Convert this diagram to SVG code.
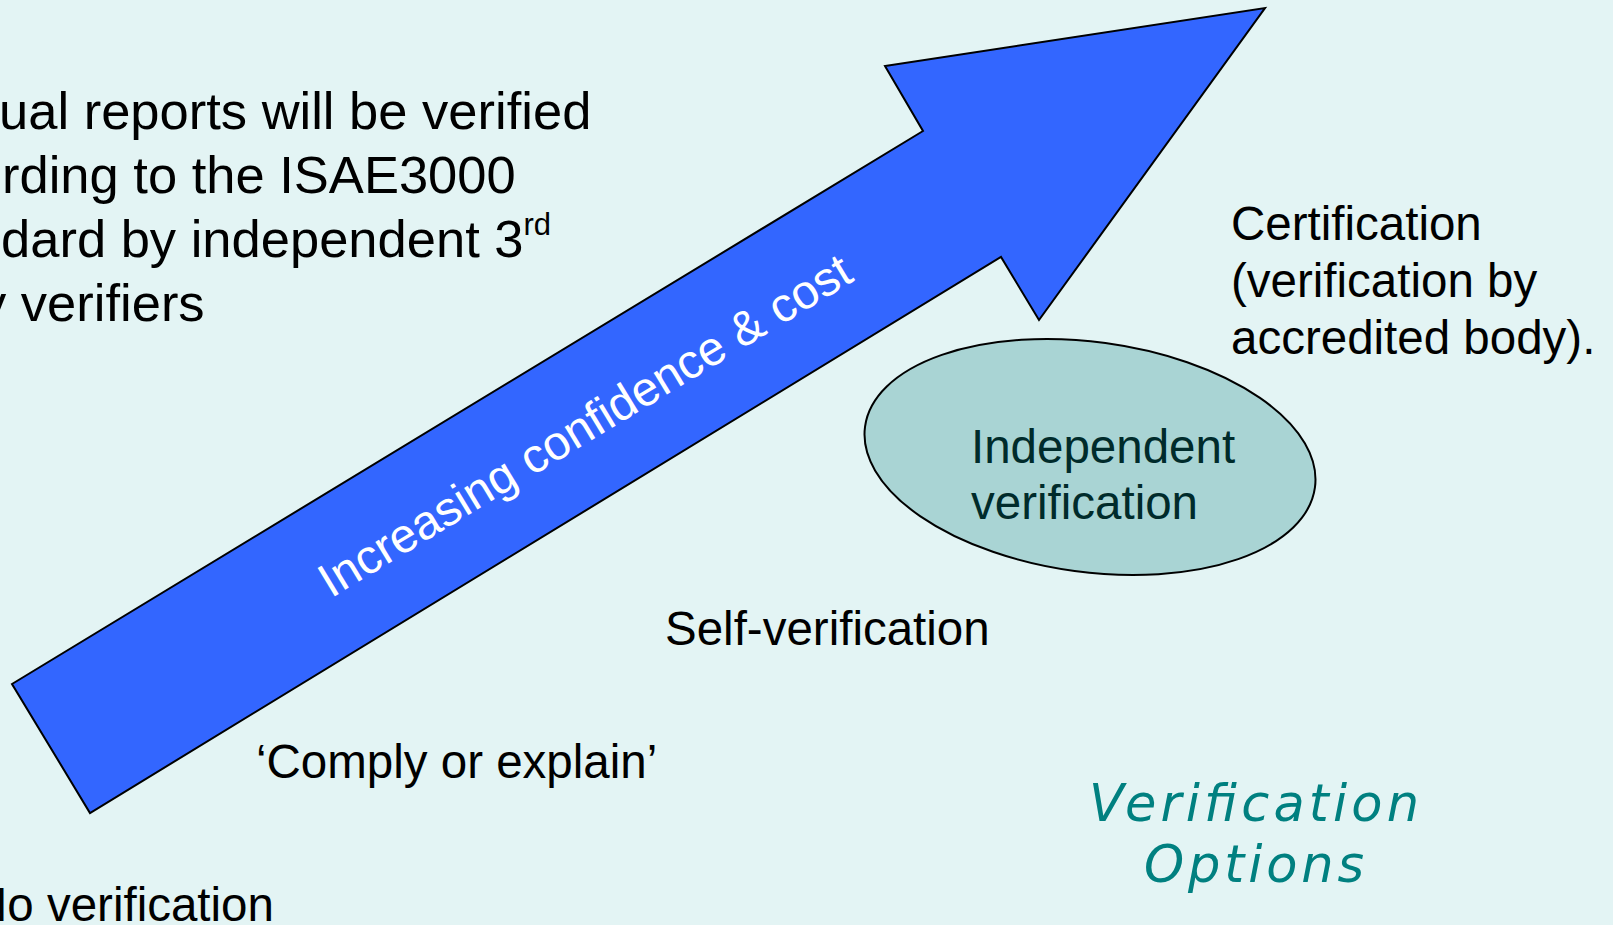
<svg xmlns="http://www.w3.org/2000/svg" width="1613" height="925" viewBox="0 0 1613 925">
<style>
.t{font-family:"Liberation Sans",Arial,sans-serif;fill:#000}
.big{font-size:52.5px}
.mid{font-size:47.5px}
.opt{font-family:"DejaVu Sans",Verdana,sans-serif;font-style:italic;font-size:51px;fill:#008080;text-anchor:middle}
</style>
<rect id="background" x="0" y="0" width="1613" height="925" fill="#E3F4F4"/>
<g id="intro-text">
<text class="t big" x="-1" y="129">ual reports will be verified</text>
<text class="t big" x="2" y="193">rding to the ISAE3000</text>
<text class="t big" x="1" y="257">dard by independent 3<tspan font-size="31" dy="-22">rd</tspan></text>
<text class="t big" x="-20" y="321">y verifiers</text>
</g>
<g id="arrow">
<polygon points="12,684 923,131 885,66 1265,8 1039,320 1001,257 90,813" fill="#3366FF" stroke="#000" stroke-width="2" stroke-linejoin="miter"/>
<text transform="translate(584.4,424.7) rotate(-31.26)" x="0" y="17" font-family="Liberation Sans, Arial, sans-serif" font-size="48" fill="#FFFFFF" text-anchor="middle">Increasing confidence &amp; cost</text>
</g>
<g id="certification">
<text class="t mid" x="1231" y="240">Certification</text>
<text class="t mid" x="1231" y="297">(verification by</text>
<text class="t mid" x="1231" y="354">accredited body).</text>
</g>
<g id="independent-verification">
<ellipse cx="1090" cy="457" rx="227" ry="115" transform="rotate(7.7 1090 457)" fill="#A9D4D4" stroke="#000" stroke-width="2"/>
<text class="mid" x="971" y="463" font-family="Liberation Sans, Arial, sans-serif" fill="#002B2B">Independent</text>
<text class="mid" x="971" y="519" font-family="Liberation Sans, Arial, sans-serif" fill="#002B2B">verification</text>
</g>
<g id="self-verification">
<text class="t mid" x="665" y="645">Self-verification</text>
</g>
<g id="comply-or-explain">
<text class="t mid" x="256" y="778">‘Comply or explain’</text>
</g>
<g id="no-verification">
<text class="t mid" x="-27" y="921">No verification</text>
</g>
<g id="title">
<text class="opt" x="1254" y="821" textLength="330" lengthAdjust="spacing">Verification</text>
<text class="opt" x="1254" y="882" textLength="220" lengthAdjust="spacing">Options</text>
</g>
</svg>
